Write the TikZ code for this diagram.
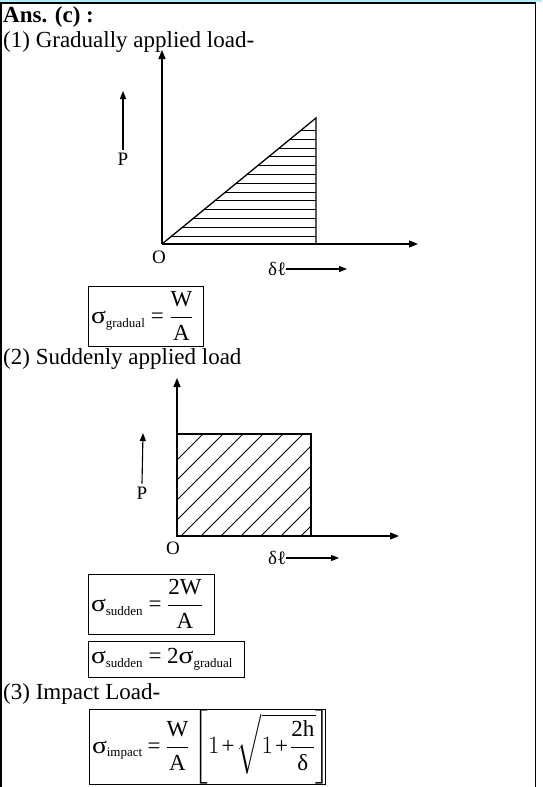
\documentclass[tikz,border=0pt]{standalone}
\usepackage{amsmath}
\usepackage{graphicx}
\usepackage{fontspec}
\setmainfont{Liberation Serif}
\usetikzlibrary{arrows.meta}
\newcommand{\tx}[1]{\mbox{#1}}
\newcommand{\sg}{\mbox{\scalebox{1.2}[1.05]{σ}}}
\newcommand{\eqs}{\mathrel{\tx{=}}}
\newcommand{\pls}{\mathbin{\tx{+}}}
\newcommand{\subf}[1]{\mbox{\fontsize{13}{14}\selectfont #1}}
\newcommand{\msp}{\thickmuskip=4mu\relax\medmuskip=2mu\relax}
\newcommand{\mspb}{\thickmuskip=3.5mu\relax\medmuskip=1.5mu\relax\delimitershortfall=14pt\relax}
\begin{document}
\begin{tikzpicture}[x=1pt,y=-1pt,
  txt/.style={inner sep=0pt,anchor=base west,font=\fontsize{23}{26}\selectfont},
  lbl/.style={inner sep=0pt,font=\fontsize{19}{21}\selectfont},
  axis/.style={line width=1.3pt,-{Triangle[length=9pt,width=7pt]}},
  small/.style={line width=1.1pt,-{Triangle[length=8pt,width=6pt]}},
  edge/.style={line width=1.3pt},
  hatch/.style={line width=0.9pt},
  fbox/.style={draw,line width=0.9pt,inner sep=0pt,font=\fontsize{23}{26}\selectfont}]
\useasboundingbox (0,0) rectangle (542,787);
\fill[white] (0,0) rectangle (542,787);
% frame
\fill[blue!25!cyan!30] (0,0) rectangle (542,2);
\draw[line width=1.2pt] (0,3) -- (536,3);
\draw[line width=1.5pt] (1,3) -- (1,787);
\draw[line width=1.5pt] (535.5,3) -- (535.5,787);
% texts
\node[txt,font=\fontsize{23}{26}\selectfont\bfseries] (ans) at (3,23) {Ans. (c) :};
\node[txt] (t1) at (3,47) {(1) Gradually applied load-};
\node[txt] (t2) at (3,364) {(2) Suddenly applied load};
\node[txt] (t3) at (3,699) {(3) Impact Load-};
% graph 1
\coordinate (O1) at (162,244);
\coordinate (Y1) at (162,50);
\coordinate (X1) at (418,244);
\coordinate (T1) at (316,118);
\coordinate (B1) at (316,244);
\begin{scope}
\clip (O1) -- (T1) -- (B1) -- cycle;
\foreach \yy in {130.5,139.3,148.1,156.9,165.7,174.5,183.3,192.1,200.9,209.7,218.5,227.3,236.1}
  \draw[hatch] (160,\yy) -- (320,\yy);
\end{scope}
\draw[edge] (O1) -- (T1) -- (B1);
\draw[axis] (O1) -- (X1);
\draw[axis] (O1) -- (Y1);
\node[lbl] (P1) at (123,159) {P};
\coordinate (P1t) at (123,91);
\draw[small] (P1.north) ++(0,-3) -- (P1t);
\node[lbl] (O1l) at (159,257) {O};
\node[lbl,anchor=west] (d1) at (268,269) {δℓ};
\coordinate (d1t) at (347,269);
\draw[small] (d1.east) -- (d1t);
% formula 1
\node[fbox,minimum width=115pt,minimum height=60pt] (f1) at (145.5,316)
  {\makebox[109pt][l]{$\msp\sg_{\subf{gradual}} \eqs \dfrac{\tx{W}}{\tx{A}}$}};
% graph 2
\coordinate (O2) at (177,536);
\coordinate (Y2) at (177,378);
\coordinate (X2) at (399,536);
\begin{scope}
\clip (177,434) rectangle (311,536);
\foreach \c in {637,657,...,857}
  \draw[hatch] (\c-434,434) -- (\c-536,536) ;
\end{scope}
\draw[edge] (177,434) rectangle (311,536);
\draw[axis] (O2) -- (X2);
\draw[axis] (O2) -- (Y2);
\node[lbl] (P2) at (142,493) {P};
\coordinate (P2t) at (143,433);
\draw[small] (P2.north) ++(0,-3) -- (P2t);
\node[lbl] (O2l) at (173,548) {O};
\node[lbl,anchor=west] (d2) at (268,558) {δℓ};
\coordinate (d2t) at (339,558);
\draw[small] (d2.east) -- (d2t);
% formulas 2,3
\node[fbox,minimum width=126pt,minimum height=60pt] (f2) at (151,604)
  {\makebox[120pt][l]{$\msp\sg_{\subf{sudden}} \eqs \dfrac{\tx{2W}}{\tx{A}}$}};
\node[fbox,minimum width=156pt,minimum height=36pt] (f3) at (166,659)
  {\makebox[150pt][l]{$\msp\sg_{\subf{sudden}} \eqs \tx{2}\sg_{\subf{gradual}}$}};
% formula 4
\node[fbox,minimum width=236pt,minimum height=70pt] (f4) at (207,747)
  {\makebox[230pt][l]{$\mspb\sg_{\subf{impact}} \eqs \dfrac{\tx{W}}{\tx{A}}\left[1\pls\sqrt{1\pls\dfrac{\tx{2h}}{\tx{δ}}}\right]$}};
\end{tikzpicture}
\end{document}
